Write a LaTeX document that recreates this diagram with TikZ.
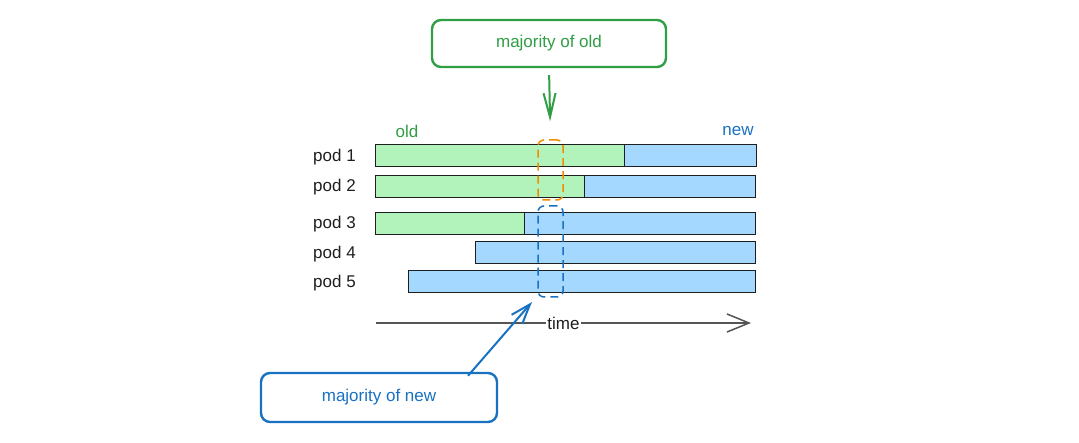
\documentclass[tikz,border=0pt]{standalone}
\usepackage{fontspec}
\setmainfont{Liberation Sans}
\usetikzlibrary{arrows.meta}
\definecolor{exgreen}{HTML}{2F9E44}
\definecolor{exblue}{HTML}{1971C2}
\definecolor{exorange}{HTML}{F08C00}
\definecolor{fillgreen}{HTML}{B2F2BB}
\definecolor{fillblue}{HTML}{A5D8FF}
\definecolor{ink}{HTML}{1E1E1E}
\definecolor{axisgray}{HTML}{555555}
\begin{document}
\begin{tikzpicture}[x=1pt,y=-1pt,
  every node/.style={font=\fontsize{17}{20}\selectfont},
  bar/.style={draw=ink, line width=1pt, rectangle, inner sep=0pt, minimum height=22pt},
  oldbar/.style={bar, fill=fillgreen},
  newbar/.style={bar, fill=fillblue},
  callout/.style={rectangle, rounded corners=9pt, line width=2.4pt, fill=white, inner sep=0pt},
  focus/.style={rectangle, rounded corners=6pt, dashed, dash pattern=on 8pt off 5pt, line width=1.5pt, inner sep=0pt, minimum width=25pt},
  podlabel/.style={anchor=west, text=ink, inner sep=0pt},
  pointer/.style={line width=2pt, -{Straight Barb[length=20pt, width=14pt, line width=2pt]}}
]
\useasboundingbox (0,0) rectangle (1079,443);

% callout boxes
\node[callout, draw=exgreen, text=exgreen, minimum width=234pt, minimum height=47pt] (oldbox) at (549,43.5) {majority of old};
\node[callout, draw=exblue, text=exblue, minimum width=236pt, minimum height=49pt] (newbox) at (379,397.5) {majority of new};

% header labels
\node[text=exgreen] (oldlbl) at (407,131) {old};
\node[text=exblue] (newlbl) at (738,131) {new};

% pod labels
\node[podlabel] (l1) at (313,157) {pod 1};
\node[podlabel] (l2) at (313,187) {pod 2};
\node[podlabel] (l3) at (313,224) {pod 3};
\node[podlabel] (l4) at (313,254) {pod 4};
\node[podlabel] (l5) at (313,283) {pod 5};

% bars
\node[oldbar, minimum width=249pt] (p1o) at (499.5,156) {};
\node[newbar, minimum width=132pt] (p1n) at (690,156) {};
\node[oldbar, minimum width=209pt] (p2o) at (479.5,187) {};
\node[newbar, minimum width=171pt] (p2n) at (669.5,187) {};
\node[oldbar, minimum width=149pt] (p3o) at (449.5,224) {};
\node[newbar, minimum width=231pt] (p3n) at (639.5,224) {};
\node[newbar, minimum width=280pt] (p4n) at (615,253) {};
\node[newbar, minimum width=347pt] (p5n) at (581.5,282) {};

% focus windows
\node[focus, draw=exorange, minimum height=60pt] (win1) at (550.5,170) {};
\node[focus, draw=exblue, minimum height=91pt] (win2) at (550.5,251.5) {};

% time axis
\coordinate (t0) at (376,323);
\coordinate (t1) at (751,323);
\draw[axisgray, line width=1.3pt, -{Straight Barb[length=22pt, width=18pt, line width=1.5pt]}] (t0) -- node[fill=white, text=ink, inner sep=1pt] (timelbl) {time} (t1);

% pointers
\draw[pointer, exgreen, shorten <=7pt, shorten >=18pt, -{Straight Barb[length=24pt, width=12pt, line width=2pt]}] (oldbox.south) -- (win1.north);
\coordinate (bt) at (532,302);
\draw[pointer, exblue] ([xshift=89pt,yshift=-4pt]newbox.north) -- (bt);
\end{tikzpicture}
\end{document}
